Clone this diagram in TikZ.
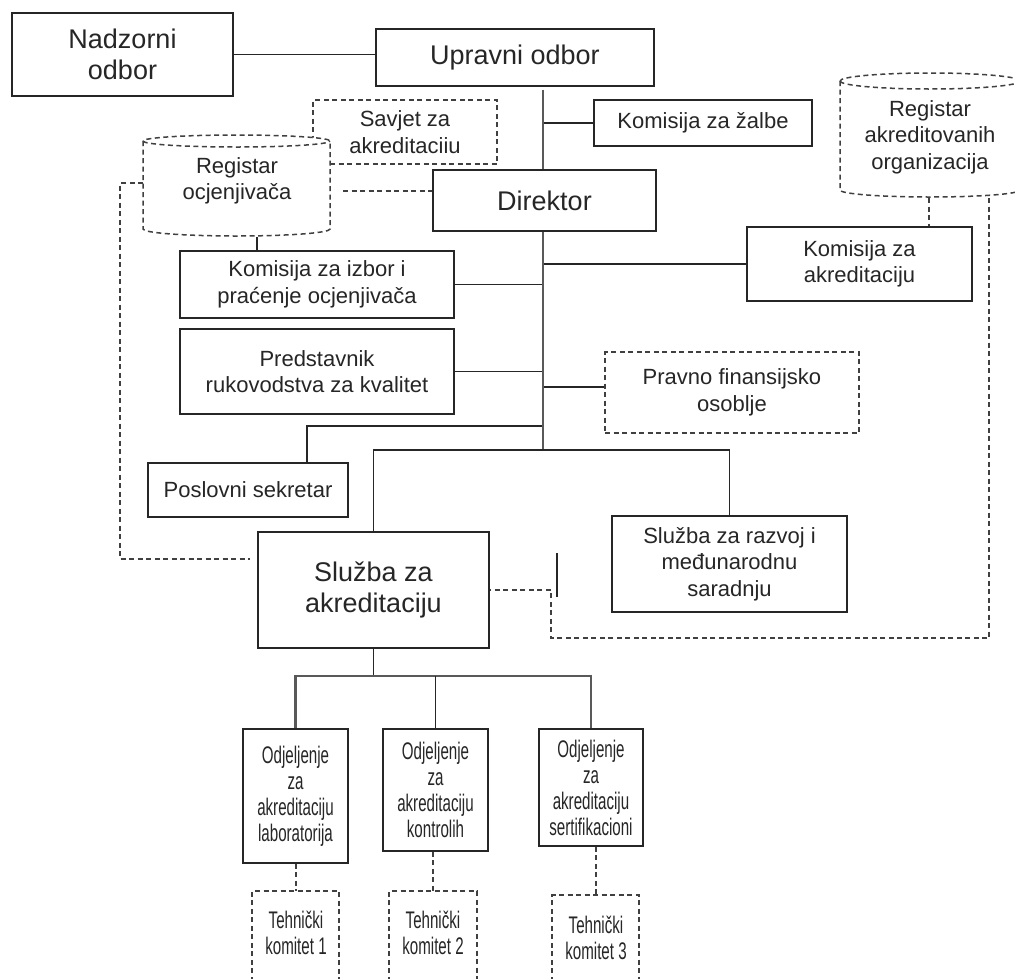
\documentclass[tikz,border=0pt]{standalone}
\usepackage{fontspec}
\setmainfont{Liberation Sans}
\newfontfamily\narrowf[FakeStretch=0.63]{Liberation Sans}
\newcommand\bigtxt{\fontsize{27}{31}\selectfont}
\newcommand\smalltxt{\fontsize{22}{26.5}\selectfont}
\newcommand\narrowtxt{\narrowf\fontsize{24}{26}\selectfont}
\tikzset{
  box/.style={draw=black!85, line width=1.6pt, fill=white, align=center, inner sep=0pt, text=black!85, font=\smalltxt},
  bigbox/.style={box, font=\bigtxt},
  dbox/.style={box, draw=black!75, dash pattern=on 5pt off 3.5pt},
  odjbox/.style={box, font=\narrowtxt, minimum width=105pt},
  link/.style={line width=1.6pt, draw=black!85},
  trunk/.style={line width=2.6pt, draw=black!65},
  dlink/.style={line width=1.5pt, draw=black!75, dash pattern=on 5pt off 3.5pt},
}
\begin{document}
\begin{tikzpicture}[x=1pt,y=-1pt]
  \useasboundingbox (0,0) rectangle (1015,978);
  \clip (0,0) rectangle (1015,978);
  \fill[white] (0,0) rectangle (1015,978);

  % top level
  \node[bigbox, minimum width=221pt, minimum height=83pt] (nad) at (122.5,54.5) {Nadzorni\\odbor};
  \node[bigbox, minimum width=278pt, minimum height=57pt] (upr) at (515,57.5) {Upravni odbor};
  \node[box, minimum width=218pt, minimum height=46pt] (zal) at (703,123) {Komisija za žalbe};
  \node[bigbox, minimum width=223pt, minimum height=61pt] (dir) at (544.5,200.5) {Direktor};
  \node[dbox, minimum width=184pt, minimum height=64pt] (sav) at (405,132) {Savjet za\\akreditaciiu};

  % registri (cilindri)
  \draw[dlink, fill=white] (143,141) -- (143,229) arc[start angle=180, end angle=360, x radius=93.5pt, y radius=7pt]
    -- (330,141) arc[start angle=0, end angle=180, x radius=93.5pt, y radius=6pt] -- cycle;
  \draw[dlink] (143,141) arc[start angle=180, end angle=360, x radius=93.5pt, y radius=6pt];
  \node[font=\smalltxt, align=center, text=black!85] (roc) at (237,181) {Registar\\ocjenjivača};
  \draw[dlink, fill=white] (840,81) -- (840,190) arc[start angle=180, end angle=360, x radius=90pt, y radius=7pt]
    -- (1020,81) arc[start angle=0, end angle=180, x radius=90pt, y radius=8pt] -- cycle;
  \draw[dlink] (840,81) arc[start angle=180, end angle=360, x radius=90pt, y radius=8pt];
  \node[font=\smalltxt, align=center, text=black!85] (rao) at (930,137) {Registar\\akreditovanih\\organizacija};

  % ispod direktora
  \node[box, minimum width=225pt, minimum height=74pt] (kak) at (859.5,264) {Komisija za\\akreditaciju};
  \node[box, minimum width=274pt, minimum height=67pt] (izb) at (317,284.5) {Komisija za izbor i\\praćenje ocjenjivača};
  \node[box, minimum width=274pt, minimum height=85pt] (pre) at (317,371.5) {Predstavnik\\rukovodstva za kvalitet};
  \node[dbox, minimum width=254pt, minimum height=81pt] (prf) at (732,392.5) {Pravno finansijsko\\osoblje};
  \node[box, minimum width=200pt, minimum height=54pt] (pos) at (248,490) {Poslovni sekretar};
  \node[bigbox, minimum width=231pt, minimum height=116pt] (sak) at (373.5,590) {Služba za\\akreditaciju};
  \node[box, minimum width=235pt, minimum height=96pt] (raz) at (729.5,564) {Služba za razvoj i\\međunarodnu\\saradnju};

  % odjeljenja
  \node[odjbox, minimum height=134pt] (odj1) at (295.5,796) {Odjeljenje\\za\\akreditaciju\\laboratorija};
  \node[odjbox, minimum height=122pt] (odj2) at (435.5,790) {Odjeljenje\\za\\akreditaciju\\kontrolih};
  \node[odjbox, minimum width=104pt, minimum height=117pt] (odj3) at (591,787.5) {Odjeljenje\\za\\akreditaciju\\sertifikacioni};

  % tehnicki komiteti (otvoreni dolje)
  \draw[dlink] (252,990) |- (339,891) -- (339,990);
  \draw[dlink] (389,990) |- (477,891) -- (477,990);
  \draw[dlink] (552,990) |- (639,895) -- (639,990);
  \node[font=\narrowtxt, align=center, text=black!85] (tk1) at (296,933) {Tehnički\\komitet 1};
  \node[font=\narrowtxt, align=center, text=black!85] (tk2) at (433,933) {Tehnički\\komitet 2};
  \node[font=\narrowtxt, align=center, text=black!85] (tk3) at (596,938) {Tehnički\\komitet 3};
  \coordinate (t1) at (296,891);
  \coordinate (t2) at (433,891);
  \coordinate (t3) at (596,895);

  % veze
  \coordinate (ta) at (543,90);
  \coordinate (tb) at (543,450);
  \coordinate (pf) at (543,387);
  \coordinate (ps) at (543,426);
  \coordinate (sb) at (373.5,676);
  \draw[link] (nad.east) -- (nad.east -| upr.west);
  \draw[link] (ta |- zal.west) -- (zal.west);
  \draw[link] (ta |- kak.west) -- (kak.west);
  \draw[link] (izb.east) -- (izb.east -| ta);
  \draw[link] (pre.east) -- (pre.east -| ta);
  \draw[link] (pf) -- (pf -| prf.west);
  \draw[link] (ps) -| ([xshift=59pt]pos.north);
  \draw[trunk] (ta) -- (ta |- dir.north);
  \draw[trunk] (ta |- dir.south) -- (tb);
  \draw[link] (sak.north) |- (tb) -| (raz.north);
  \draw[link] (sak.south) -- (sb);
  \draw[trunk, line width=2.2pt] (odj1.north) |- (sb) -| (odj3.north);
  \draw[link] (odj2.north) -- (odj2.north |- sb);
  \draw[dlink] (t1 |- odj1.south) -- (t1);
  \draw[dlink] (t2 |- odj2.south) -- (t2);
  \draw[dlink] (t3 |- odj3.south) -- (t3);

  % isprekidane veze registara
  \coordinate (rb) at (257,237);
  \coordinate (rr) at (343,191);
  \coordinate (rl) at (143,183);
  \coordinate (sl) at (250,559);
  \coordinate (ab) at (929,198);
  \coordinate (ar) at (989,198);
  \draw[link] (rb) -- (rb |- izb.north);
  \draw[dlink] (rr) -- (rr -| dir.west);
  \draw[dlink] (rl) -- ++(-23,0) |- (sl);
  \draw[dlink] (ab) -- (ab |- kak.north);
  \draw[dlink] (ar) |- (551,638) |- (sak.east);
  \draw[link] (557,553) -- (557,597);
\end{tikzpicture}
\end{document}
